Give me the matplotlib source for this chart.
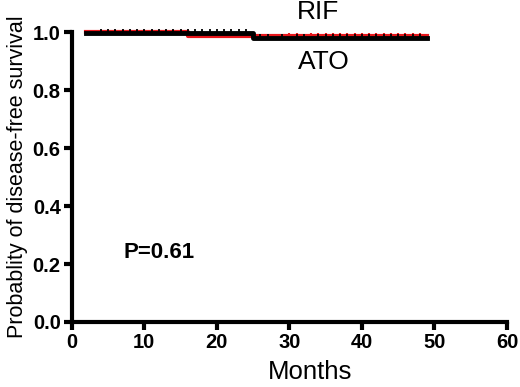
import matplotlib
matplotlib.use("Agg")
import matplotlib.pyplot as plt

# Data
rif_times = [2, 16, 49]
rif_surv = [1.0, 0.985, 0.985]
ato_times = [2, 25, 49]
ato_surv = [0.997, 0.978, 0.978]
rif_censor = [30, 31, 33, 34, 35, 36, 37, 38, 39, 40, 41, 42, 43, 44, 45, 46, 47, 48]
ato_censor = [4, 5, 6, 7, 8, 9, 10, 11, 12, 13, 14, 15, 16, 17, 18, 19, 20, 21, 22, 23, 24,
              26, 27, 29, 31, 32, 34, 35, 36, 37, 38, 39, 40, 41, 42, 43, 44, 45, 46, 47, 48]
x_ticks = [0, 10, 20, 30, 40, 50, 60]
y_ticks = [0.0, 0.2, 0.4, 0.6, 0.8, 1.0]

plt.rcParams['font.family'] = ['Liberation Sans', 'DejaVu Sans']

fig = plt.figure(figsize=(5.2, 3.87), dpi=100)
ax = fig.add_axes([0.138, 0.168, 0.837, 0.749])

def surv_at(times, surv, t):
    val = surv[0]
    for ti, si in zip(times, surv):
        if t >= ti:
            val = si
    return val

ax.step(rif_times, rif_surv, where='post', color='#e8161b', lw=3, clip_on=False, zorder=3)
ax.plot(rif_censor, [surv_at(rif_times, rif_surv, t) for t in rif_censor], ls='none',
        marker='|', ms=5, mew=1.5, color='#e8161b', clip_on=False, zorder=3)
ax.step(ato_times, ato_surv, where='post', color='black', lw=3.5, clip_on=False, zorder=4)
ax.plot(ato_censor, [surv_at(ato_times, ato_surv, t) + 0.005 for t in ato_censor], ls='none',
        marker='|', ms=4, mew=1.3, color='black', clip_on=False, zorder=4)

ax.set_xlim(0, 60)
ax.set_ylim(0, 1.0)
ax.set_xticks(x_ticks)
ax.set_yticks(y_ticks)
ax.set_xticklabels([str(v) for v in x_ticks], fontweight='bold', fontsize=14.5)
ax.set_yticklabels([f"{v:.1f}" for v in y_ticks], fontweight='bold', fontsize=14.5)
for s in ['top', 'right']:
    ax.spines[s].set_visible(False)
for s in ['left', 'bottom']:
    ax.spines[s].set_linewidth(3)
ax.tick_params(direction='out', length=6, width=3, pad=2)

ax.set_xlabel('Months', fontsize=18.5)
ax.xaxis.set_label_coords(0.547, -0.13)
ax.set_ylabel('Probablity of disease-free survival', fontsize=15.5)
ax.yaxis.set_label_coords(-0.1, 0.5)

ax.text(7.2, 0.24, 'P=0.61', fontweight='bold', fontsize=16, va='center', ha='left')
ax.text(33.9, 1.07, 'RIF', fontsize=19, ha='center', va='center', clip_on=False)
ax.text(34.8, 0.897, 'ATO', fontsize=19, ha='center', va='center')

fig.savefig('out.png', dpi=100)
